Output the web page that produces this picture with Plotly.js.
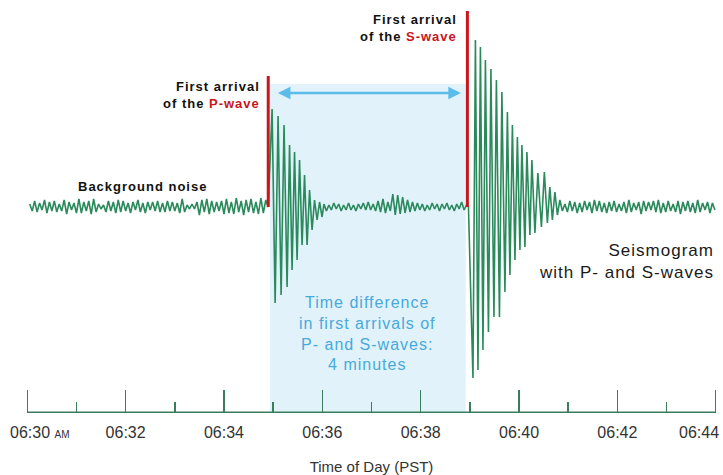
<!DOCTYPE html>
<html>
<head>
<meta charset="utf-8">
<script src="https://cdn.plot.ly/plotly-3.0.1.min.js"></script>
<style>
  html, body { margin: 0; padding: 0; background: #ffffff; }
  #chart { width: 723px; height: 475px; }
  .annotation-text { letter-spacing: 1px; }
</style>
</head>
<body>
<div id="chart"></div>
<script>
// ---- Data (time in seconds after 06:30:00, amplitude in trace units) ----
const pArrival = 294;   // first arrival of the P-wave
const sArrival = 538;   // first arrival of the S-wave

const noiseA_t = [3,6,9,12,15,18,21,24,27,30,
  33,36,39,42,45,48,51,54,57,60,
  63,66,69,72,75,78,81,84,87,90,
  93,96,99,102,105,108,111,114,117,120,
  123,126,129,132,135,138,141,144,147,150,
  153,156,159,162,165,168,171,174,177,180,
  183,186,189,192,195,198,201,204,207,210,
  213,216,219,222,225,228,231,234,237,240,
  243,246,249,252,255,258,261,264,267,270,
  273,276,279,282,285,288,291];
const noiseA_a = [3,-4,6,-5,4,-3,7,-6,5,-4,
  6,-5,3,-4,7,-7,5,-3,4,-6,
  8,-6,5,-4,6,-7,8,-5,3,-2,
  2,-5,6,-4,5,-6,7,-5,6,-4,
  4,-6,5,-3,7,-5,4,-6,5,-3,
  5,-4,6,-5,4,-5,6,-4,5,-4,
  4,-6,8,-5,2,-2,3,-2,5,-8,
  7,-5,8,-7,6,-5,5,-4,6,-7,
  8,-6,5,-7,9,-5,6,-8,7,-5,
  8,-6,5,-7,9,-6,7];

const pWave_t = [294,298.7,302.4,306.0,309.7,313.3,317.0,320.0,323.1,326.1,
  329.2,332.2,335.3,338.3,341.4,344.4,347.5,350.5,353.6,356.6,359.7];
const pWave_a = [0,98,-96,91,-88,82,-80,62,-63,55,
  -53,47,-38,32,-38,17,-23,7,-13,5,-10];

const noiseB_t = [362,365,368,371,374,377,380,383,386,389,
  392,395,398,401,404,407,410,413,416,419,
  422,425,428,431,434,437,440,443,446,449,
  452,455,458,461,464,467,470,473,476,479,
  482,485,488,491,494,497,500,503,506,509,
  512,515,518,521,524,527,530,533,536];
const noiseB_a = [3,-4,2,-3,4,-2,3,-4,2,-3,
  4,-3,2,-4,3,-2,4,-3,5,-3,
  3,-4,6,-5,8,-6,5,-4,13,-8,
  12,-7,10,-6,7,-5,5,-4,4,-3,
  3,-4,2,-3,4,-2,3,-4,3,-2,
  4,-3,2,-4,3,-2,5,-3,2];

const sWave_t = [538.3,543.8,546.8,549.9,552.9,556.0,559.0,562.7,565.7,569.4,
  572.4,576.1,579.1,582.8,585.8,588.9,591.9,595.0,598.0,601.1,
  603.5,607.2,609.6,613.3,615.7,619.4,623.0,627.3,630.9,634.6,
  637.6,640.7,643.8,646.8,649.8,652.9];
const sWave_a = [0,-171,167,-163,160,-143,147,-125,138,-110,
  127,-110,115,-85,95,-68,82,-53,70,-43,
  62,-40,55,-28,47,-26,34,-20,35,-16,
  20,-13,15,-8,7,-4];

const noiseC_t = [656,659,662,665,668,671,674,677,680,683,
  686,689,692,695,698,701,704,707,710,713,
  716,719,722,725,728,731,734,737,740,743,
  746,749,752,755,758,761,764,767,770,773,
  776,779,782,785,788,791,794,797,800,803,
  806,809,812,815,818,821,824,827,830,833,
  836,839];
const noiseC_a = [3,-5,6,-4,5,-6,4,-5,6,-3,
  5,-6,7,-4,6,-5,4,-6,5,-4,
  6,-5,3,-4,5,-6,7,-5,4,-3,
  5,-7,6,-4,5,-3,6,-5,7,-6,
  4,-5,6,-4,3,-5,6,-7,5,-4,
  6,-5,4,-6,7,-5,4,-3,5,-6,
  4,-3];

const tickSeconds = [0,120,240,360,480,600,720,840];
const tickLabels = ['06:30 <span style="font-size:10px">AM</span>','06:32','06:34','06:36','06:38','06:40','06:42','06:44'];

// ---- Build trace ----
const t = [].concat(noiseA_t, pWave_t, noiseB_t, sWave_t, noiseC_t);
const a = [].concat(noiseA_a, pWave_a, noiseB_a, sWave_a, noiseC_a);

// inner labels on the axis; the two edge labels are set flush with the picture edges
const last = tickSeconds.length - 1;
const tickText = tickLabels.map((s, i) => (i === 0 || i === last) ? '' : s);

const green = '#2b8a5c';
const axisGreen = '#3a7d5c';
const red = '#c8161d';
const lightBlue = '#47a9dd';
const yMin = -206;

const trace = {
  x: t, y: a, type: 'scatter', mode: 'lines',
  line: { color: green, width: 1.6 },
  hoverinfo: 'skip'
};

const boldFont = { family: 'Liberation Sans, Arial, sans-serif', size: 13, color: '#111111', weight: 'bold' };
const tickFamily = 'Liberation Sans Narrow, Arial Narrow, Liberation Sans, sans-serif';
const tickFont = { family: tickFamily, size: 16, color: '#333333' };

const layout = {
  width: 723, height: 475,
  margin: { l: 24, r: 4, t: 0, b: 62 },
  paper_bgcolor: '#ffffff', plot_bgcolor: '#ffffff',
  showlegend: false,
  xaxis: {
    range: [-4, 844],
    tickmode: 'array', tickvals: tickSeconds, ticktext: tickText,
    ticks: 'inside', ticklen: 23, tickwidth: 1.5, tickcolor: axisGreen,
    minor: { tickmode: 'linear', tick0: 0, dtick: 60, ticks: 'inside', ticklen: 11, tickwidth: 1.5, tickcolor: axisGreen, showgrid: false },
    showline: false,
    showgrid: false, zeroline: false,
    ticklabelstandoff: 8,
    ticklabeloverflow: 'allow',
    tickfont: tickFont,
    title: { text: 'Time of Day (PST)', standoff: 24,
      font: { family: tickFamily, size: 15, color: '#333333' } }
  },
  yaxis: { range: [yMin, 207], visible: false, fixedrange: true },
  shapes: [
    { type: 'rect', xref: 'x', yref: 'y', x0: pArrival + 2, x1: sArrival - 3, y0: yMin, y1: 123,
      fillcolor: '#e1f2fb', line: { width: 0 }, layer: 'below' },
    { type: 'line', xref: 'x', yref: 'y', x0: tickSeconds[0], x1: tickSeconds[last], y0: yMin + 0.8, y1: yMin + 0.8,
      line: { color: axisGreen, width: 1.5 } },
    { type: 'line', xref: 'x', yref: 'y', x0: pArrival, x1: pArrival, y0: 0, y1: 131,
      line: { color: red, width: 3 } },
    { type: 'line', xref: 'x', yref: 'y', x0: sArrival - 1, x1: sArrival - 1, y0: 0, y1: 196,
      line: { color: red, width: 3 } }
  ],
  annotations: [
    { xref: 'x', yref: 'y', x: tickSeconds[0], y: yMin, xanchor: 'left', yanchor: 'top', xshift: -19, yshift: -9,
      text: '<span style="letter-spacing:0px">' + tickLabels[0] + '</span>', showarrow: false, font: tickFont },
    { xref: 'x', yref: 'y', x: tickSeconds[last], y: yMin, xanchor: 'right', yanchor: 'top', xshift: 5, yshift: -9,
      text: '<span style="letter-spacing:0px">' + tickLabels[last] + '</span>', showarrow: false, font: tickFont },
    { xref: 'x', yref: 'y', x: sArrival - 9, y: 114, axref: 'x', ayref: 'y', ax: pArrival + 10, ay: 114,
      text: '', showarrow: true, arrowside: 'end+start', arrowhead: 2, arrowsize: 1, arrowwidth: 2.5, arrowcolor: '#5bbbe9' },
    { xref: 'x', yref: 'y', x: 140, y: 21, text: 'Background noise', showarrow: false,
      font: boldFont, xanchor: 'center', yanchor: 'middle' },
    { xref: 'x', yref: 'y', x: 286.5, y: 112.5, text: 'First arrival<br>of the <span style="color:' + red + '">P-wave</span>',
      showarrow: false, font: boldFont, xanchor: 'right', yanchor: 'middle', align: 'right' },
    { xref: 'x', yref: 'y', x: 526.7, y: 179, text: 'First arrival<br>of the <span style="color:' + red + '">S-wave</span>',
      showarrow: false, font: boldFont, xanchor: 'right', yanchor: 'middle', align: 'right' },
    { xref: 'x', yref: 'y', x: 414.5, y: -126.5,
      text: 'Time difference<br>in first arrivals of<br>P- and S-waves:<br>4 minutes',
      showarrow: false, xanchor: 'center', yanchor: 'middle', align: 'center',
      font: { family: 'Liberation Sans, Arial, sans-serif', size: 16, color: lightBlue } },
    { xref: 'x', yref: 'y', x: 840, y: -54,
      text: 'Seismogram<br>with P- and S-waves',
      showarrow: false, xanchor: 'right', yanchor: 'middle', align: 'right',
      font: { family: 'Liberation Sans, Arial, sans-serif', size: 17, color: '#1a1a1a' } }
  ]
};

Plotly.newPlot('chart', [trace], layout, { displayModeBar: false, staticPlot: true });
</script>
</body>
</html>
